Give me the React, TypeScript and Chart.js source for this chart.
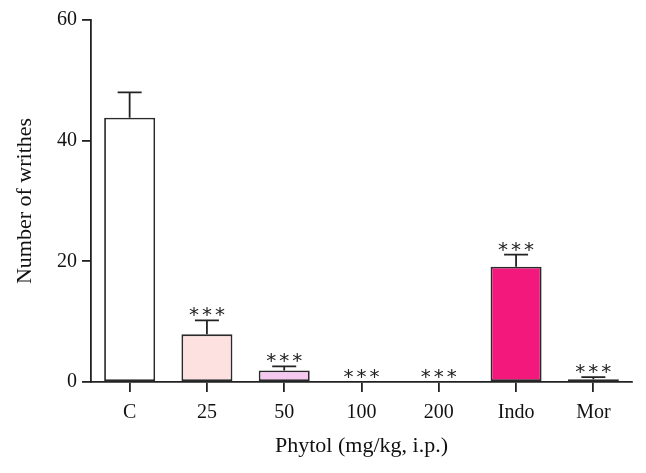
import React, { useEffect, useRef } from "react";
import { Chart, registerables } from "chart.js";

Chart.register(...registerables);

const categories = ["C", "25", "50", "100", "200", "Indo", "Mor"];
const means = [43.8, 7.9, 1.9, 0, 0, 19.1, 0.45];
const errors = [4.2, 2.3, 0.7, 0, 0, 2.0, 0.35];
const significance = ["", "***", "***", "***", "***", "***", "***"];
const fillColors = ["#ffffff", "#fde1e1", "#f5c8ef", "#ffffff", "#ffffff", "#f2187c", "#4e0a62"];
const yTicks = [0, 20, 40, 60];

const SERIF = "'Liberation Serif', 'DejaVu Serif', serif";

const errorPlugin = {
  id: "errorBarsStars",
  afterDatasetsDraw(chart: any) {
    const ctx = chart.ctx;
    const x = chart.scales.x;
    const y = chart.scales.y;
    ctx.save();
    means.forEach((m, i) => {
      const cx = x.getPixelForValue(i);
      const yTop = y.getPixelForValue(m);
      const yErr = y.getPixelForValue(m + errors[i]);
      if (errors[i] > 0) {
        ctx.strokeStyle = "#222";
        ctx.lineWidth = 1.8;
        ctx.beginPath();
        ctx.moveTo(cx, yTop);
        ctx.lineTo(cx, yErr);
        ctx.moveTo(cx - 12, yErr);
        ctx.lineTo(cx + 12, yErr);
        ctx.stroke();
      }
      if (significance[i]) {
        ctx.fillStyle = "#222";
        ctx.font = "20px 'DejaVu Sans', sans-serif";
        ctx.textAlign = "center";
        ctx.textBaseline = "alphabetic";
        const mt = ctx.measureText("*");
        const base = yErr - 4 - mt.actualBoundingBoxDescent;
        const n = significance[i].length;
        for (let k = 0; k < n; k++) {
          ctx.fillText("*", cx + (k - (n - 1) / 2) * 13, base);
        }
      }
    });
    ctx.restore();
  },
};

export default function App() {
  const ref = useRef<HTMLCanvasElement | null>(null);
  useEffect(() => {
    document.body.style.margin = "0";
    const chart = new Chart(ref.current as HTMLCanvasElement, {
      type: "bar",
      data: {
        labels: categories,
        datasets: [
          {
            data: means,
            backgroundColor: fillColors,
            borderColor: "#2a2a2a",
            borderWidth: means.map((v) => (v > 0 ? 1.8 : 0)),
            borderSkipped: false,
            barPercentage: 0.66,
            categoryPercentage: 1,
          },
        ],
      },
      options: {
        responsive: false,
        animation: false,
        layout: { padding: { top: 20, right: 14, left: 0, bottom: 0 } },
        plugins: { legend: { display: false }, tooltip: { enabled: false } },
        scales: {
          x: {
            offset: true,
            grid: { display: true, drawOnChartArea: false, tickLength: 10, color: "#222", lineWidth: 1.8, offset: false },
            border: { color: "#222", width: 1.8 },
            ticks: { color: "#111", font: { family: SERIF, size: 20 }, padding: 9 },
            title: { display: true, text: "Phytol (mg/kg, i.p.)", color: "#111", font: { family: SERIF, size: 22 }, padding: { top: 0, bottom: 14 } },
            afterFit: (s: any) => { s.height = 91; },
          },
          y: {
            min: 0,
            max: 60,
            afterBuildTicks: (s: any) => { s.ticks = yTicks.map((v) => ({ value: v })); },
            grid: { display: true, drawOnChartArea: false, tickLength: 9, color: "#222", lineWidth: 1.8 },
            border: { color: "#222", width: 1.8 },
            ticks: { color: "#111", font: { family: SERIF, size: 20 }, padding: 5 },
            title: { display: true, text: "Number of writhes", color: "#111", font: { family: SERIF, size: 22 }, padding: { top: 12, bottom: 0 } },
            afterFit: (s: any) => { s.width = 91; },
          },
        },
      },
      plugins: [errorPlugin],
    });
    return () => chart.destroy();
  }, []);
  return <canvas ref={ref} width={646} height={473} style={{ display: "block" }} />;
}
